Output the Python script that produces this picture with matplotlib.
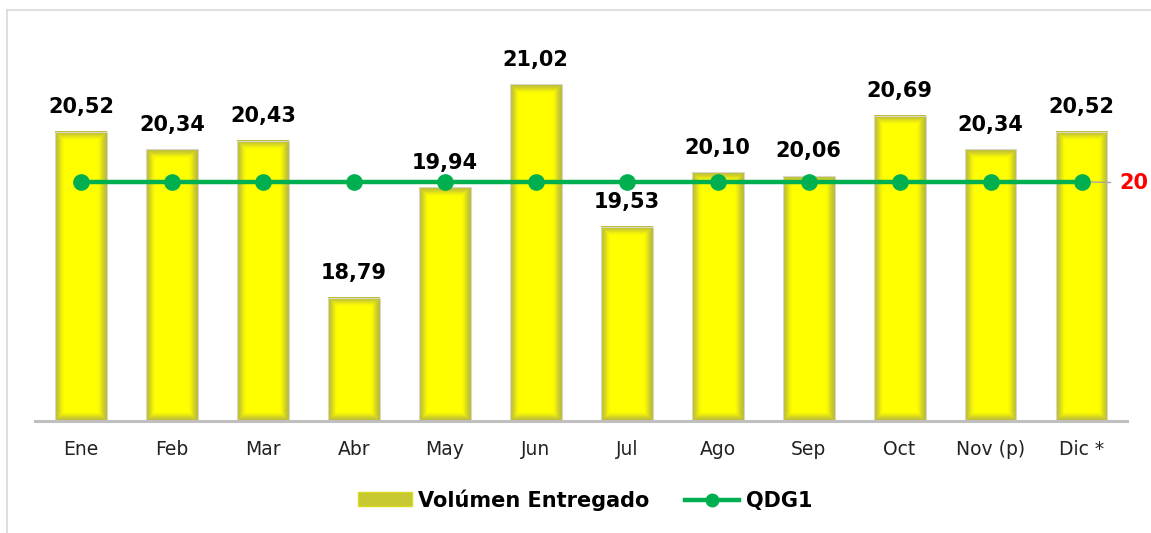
import numpy as np
import matplotlib
matplotlib.use("Agg")
import matplotlib.pyplot as plt
from matplotlib.patches import Patch
from matplotlib.lines import Line2D

categories = ["Ene", "Feb", "Mar", "Abr", "May", "Jun", "Jul", "Ago", "Sep", "Oct", "Nov (p)", "Dic *"]
volumen = [20.52, 20.34, 20.43, 18.79, 19.94, 21.02, 19.53, 20.10, 20.06, 20.69, 20.34, 20.52]
qdg1 = [20] * 12
value_labels = ["20,52", "20,34", "20,43", "18,79", "19,94", "21,02", "19,53", "20,10", "20,06", "20,69", "20,34", "20,52"]

plt.rcParams['font.family'] = ['DejaVu Sans']

W, H = 1151, 533
fig = plt.figure(figsize=(W / 100, H / 100), dpi=100)
ax = fig.add_axes([35.5 / W, 112 / H, (1127 - 35.5) / W, 411.5 / H])

ymin, ymax = 17.5, 21.8
x = np.arange(len(categories))
bw = 0.57

# bars (outline) through library
bars = ax.bar(x, [v - ymin for v in volumen], bottom=ymin, width=bw,
              facecolor='none', edgecolor='#D8D8C8', linewidth=0.8, zorder=3)

# gradient fill for each bar
edge = np.array([0.74, 0.74, 0.22])
center = np.array([1.0, 1.0, 0.0])
px_per_unit = 411.5 / (ymax - ymin)
bar_px_w = int(round(bw * (1127 - 35.5) / 12))
for xi, v in zip(x, volumen):
    hpx = max(int(round((v - ymin) * px_per_unit)), 2)
    cols = np.arange(bar_px_w) + 0.5
    rows = np.arange(hpx) + 0.5
    dx = np.minimum(cols, bar_px_w - cols)[None, :]
    dy = np.minimum(rows, hpx - rows)[:, None]
    d = np.minimum(dx, dy)
    t = np.clip(d / 10.0, 0, 1)
    t = t * t * (3 - 2 * t)
    img = edge[None, None, :] * (1 - t[..., None]) + center[None, None, :] * t[..., None]
    ax.imshow(img, extent=[xi - bw / 2, xi + bw / 2, ymin, v], aspect='auto',
              interpolation='bilinear', zorder=2, origin='lower')

# line
ax.plot(x, qdg1, color='#00B050', linewidth=3.2, marker='o', markersize=11,
        markerfacecolor='#00B050', markeredgecolor='#00B050', zorder=5)

# value labels
for xi, v, lab in zip(x, volumen, value_labels):
    ax.annotate(lab, (xi, v), xytext=(0, 10.5), textcoords='offset points',
                ha='center', va='bottom', fontsize=15, fontweight='bold',
                color='black', zorder=6)

# line label
ax.annotate("20", (x[-1], qdg1[-1]), xytext=(27, -1), textcoords='offset points',
            ha='left', va='center', fontsize=15, fontweight='bold', color='#FF0000',
            annotation_clip=False,
            arrowprops=dict(arrowstyle='-', color='#A6A6A6', linewidth=1.0,
                            shrinkA=4, shrinkB=2))

ax.set_xlim(-0.5, len(categories) - 0.5)
ax.set_ylim(ymin, ymax)
ax.set_xticks(x)
ax.set_xticklabels(categories, fontsize=13.5, color='#222222')
ax.tick_params(axis='x', length=0, pad=14)
ax.set_yticks([])
for s in ['top', 'right', 'left']:
    ax.spines[s].set_visible(False)
ax.spines['bottom'].set_color('#BFBFBF')
ax.spines['bottom'].set_linewidth(2.2)
ax.spines['bottom'].set_zorder(4)

# legend
handles = [Patch(facecolor='#C8C832', edgecolor='#DADA20', label='Volúmen Entregado'),
           Line2D([0], [0], color='#00B050', linewidth=3.2, marker='o', markersize=9,
                  label='QDG1')]
fig.legend(handles=handles, loc='center', bbox_to_anchor=(585 / W, 1 - 500 / H),
           ncol=2, frameon=False, prop=dict(size=15, weight='bold'),
           handlelength=2.6, handleheight=0.65, handletextpad=0.3, columnspacing=1.7)

# outer border
fig.add_artist(Line2D([7 / W, 7 / W], [0, 1 - 10 / H], transform=fig.transFigure,
                      color='#D9D9D9', linewidth=1.2))
fig.add_artist(Line2D([7 / W, 1], [1 - 10 / H, 1 - 10 / H], transform=fig.transFigure,
                      color='#D9D9D9', linewidth=1.2))

fig.savefig("out.png", dpi=100, facecolor='white')
